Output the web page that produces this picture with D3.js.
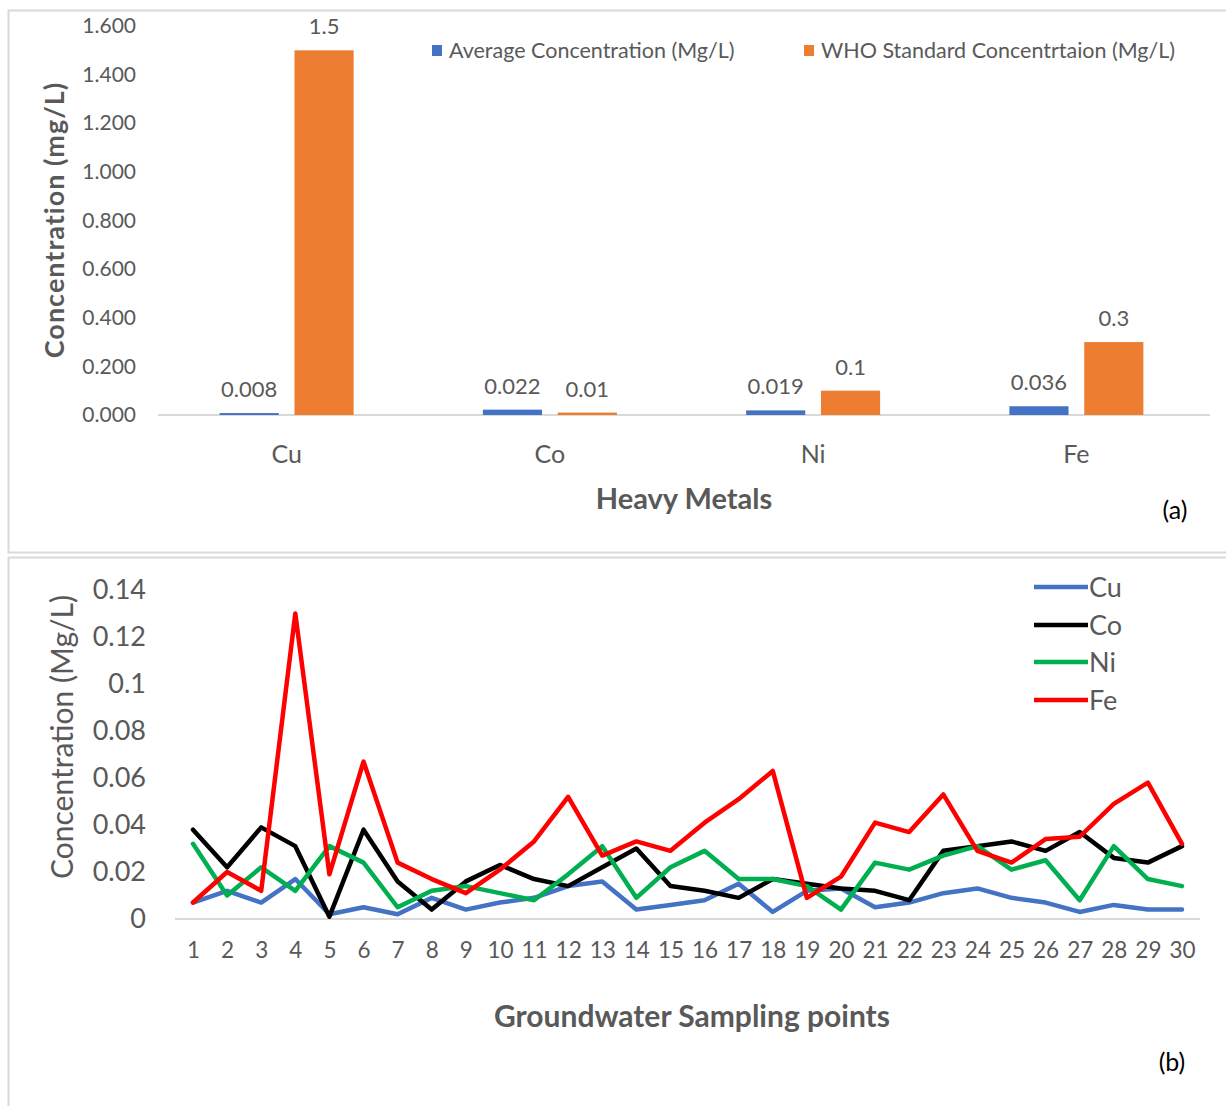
<!DOCTYPE html>
<html>
<head>
<meta charset="utf-8">
<script src="https://cdn.jsdelivr.net/npm/d3@7"></script>
<style>
  html, body { margin: 0; padding: 0; background: #fff; }
  svg { display: block; font-family: Lato, "Open Sans", sans-serif; }
</style>
</head>
<body>
<svg id="chart" width="1226" height="1106"></svg>
<script>
// ---------- Data: panel (a) ----------
const metals = ["Cu", "Co", "Ni", "Fe"];
const avgConc = [0.008, 0.022, 0.019, 0.036];
const whoConc = [1.5, 0.01, 0.1, 0.3];
const avgLabels = ["0.008", "0.022", "0.019", "0.036"];
const whoLabels = ["1.5", "0.01", "0.1", "0.3"];
const barSeries = ["Average Concentration (Mg/L)", "WHO Standard Concentrtaion (Mg/L)"];
const barTicks = [0, 0.2, 0.4, 0.6, 0.8, 1.0, 1.2, 1.4, 1.6];

// ---------- Data: panel (b) ----------
const points = d3.range(1, 31);
const cuSeries = [0.007,0.012,0.007,0.017,0.002,0.005,0.002,0.009,0.004,0.007,
                  0.009,0.014,0.016,0.004,0.006,0.008,0.015,0.003,0.012,0.013,
                  0.005,0.007,0.011,0.013,0.009,0.007,0.003,0.006,0.004,0.004];
const coSeries = [0.038,0.022,0.039,0.031,0.001,0.038,0.016,0.004,0.016,0.023,
                  0.017,0.014,0.022,0.030,0.014,0.012,0.009,0.017,0.015,0.013,
                  0.012,0.008,0.029,0.031,0.033,0.029,0.037,0.026,0.024,0.031];
const niSeries = [0.032,0.010,0.022,0.012,0.031,0.024,0.005,0.012,0.014,0.011,
                  0.008,0.019,0.031,0.009,0.022,0.029,0.017,0.017,0.014,0.004,
                  0.024,0.021,0.027,0.031,0.021,0.025,0.008,0.031,0.017,0.014];
const feSeries = [0.007,0.020,0.012,0.130,0.019,0.067,0.024,0.017,0.011,0.021,
                  0.033,0.052,0.027,0.033,0.029,0.041,0.051,0.063,0.009,0.018,
                  0.041,0.037,0.053,0.029,0.024,0.034,0.035,0.049,0.058,0.032];
const lineNames = ["Cu", "Co", "Ni", "Fe"];
const lineTicks = [0, 0.02, 0.04, 0.06, 0.08, 0.1, 0.12, 0.14];

const svg = d3.select("#chart");
const textGray = "#595959";
const gridGray = "#d9d9d9";

// Panel frames
svg.append("rect").attr("x", 8.5).attr("y", 10.5).attr("width", 1230).attr("height", 542)
  .attr("fill", "#fff").attr("stroke", gridGray).attr("stroke-width", 2);
svg.append("rect").attr("x", 8.5).attr("y", 557.5).attr("width", 1230).attr("height", 560)
  .attr("fill", "#fff").attr("stroke", gridGray).attr("stroke-width", 2);

// ================= Panel (a) =================
const gA = svg.append("g");
const yA = d3.scaleLinear().domain([0, 1.6]).range([415, 26]);
const xA = d3.scaleBand().domain(metals).range([155, 1208]).paddingInner(0).paddingOuter(0);
const x1 = d3.scaleBand().domain(barSeries).range([0, 134]).paddingInner(0.21);
const groupOffset = (xA.bandwidth() - 134) / 2;
const barColors = ["#4472C4", "#ED7D31"];

// y axis (labels only)
const yAxisA = d3.axisLeft(yA).tickValues(barTicks).tickFormat(d3.format(".3f")).tickSize(0).tickPadding(0);
const yAG = gA.append("g").attr("transform", "translate(136,0)").call(yAxisA);
yAG.select(".domain").remove();
yAG.selectAll("text").attr("fill", textGray).style("font-size", "21px").style("font-family", "Lato, sans-serif");

// baseline
gA.append("line").attr("x1", 158).attr("x2", 1210).attr("y1", yA(0)).attr("y2", yA(0))
  .attr("stroke", gridGray).attr("stroke-width", 2);

// bars
const barData = metals.map((m, i) => ({ m, vals: [
  { s: barSeries[0], v: avgConc[i], lab: avgLabels[i], c: barColors[0] },
  { s: barSeries[1], v: whoConc[i], lab: whoLabels[i], c: barColors[1] }
]}));
const groups = gA.selectAll("g.grp").data(barData).join("g")
  .attr("transform", d => `translate(${xA(d.m) + groupOffset},0)`);
groups.selectAll("rect").data(d => d.vals).join("rect")
  .attr("x", d => x1(d.s)).attr("width", x1.bandwidth())
  .attr("y", d => yA(d.v)).attr("height", d => yA(0) - yA(d.v))
  .attr("fill", d => d.c);
groups.selectAll("text").data(d => d.vals).join("text")
  .attr("x", d => x1(d.s) + x1.bandwidth() / 2)
  .attr("y", d => yA(d.v) - 16)
  .attr("text-anchor", "middle")
  .attr("fill", textGray).style("font-size", "22px")
  .text(d => d.lab);

// x axis labels
const xAxisA = d3.axisBottom(xA).tickSize(0).tickPadding(0);
const xAG = gA.append("g").attr("transform", "translate(0,445)").call(xAxisA);
xAG.select(".domain").remove();
xAG.selectAll("text").attr("fill", textGray).style("font-size", "25px").style("font-family", "Lato, sans-serif");

// titles
gA.append("text").attr("x", 684).attr("y", 509).attr("text-anchor", "middle")
  .attr("fill", textGray).style("font-size", "29px").style("font-weight", "bold").text("Heavy Metals");
gA.append("text").attr("transform", "translate(64,220) rotate(-90)").attr("text-anchor", "middle")
  .attr("fill", textGray).style("font-size", "27px").style("font-weight", "bold")
  .style("letter-spacing", "1px").text("Concentration (mg/L)");
gA.append("text").attr("x", 1175).attr("y", 519).attr("text-anchor", "middle")
  .attr("fill", "#000").style("font-size", "25px").text("(a)");

// legend (a)
const legA = gA.append("g");
const legAx = [432, 804];
barSeries.forEach((s, i) => {
  legA.append("rect").attr("x", legAx[i]).attr("y", 45).attr("width", 10).attr("height", 11).attr("fill", barColors[i]);
  legA.append("text").attr("x", legAx[i] + 17).attr("y", 58).attr("fill", textGray)
    .style("font-size", "21.5px").text(s);
});

// ================= Panel (b) =================
const gB = svg.append("g");
const yB = d3.scaleLinear().domain([0, 0.14]).range([919, 590]);
const xB = d3.scalePoint().domain(points).range([193, 1182]);

const yAxisB = d3.axisLeft(yB).tickValues(lineTicks).tickFormat(d => d3.format("")(+d.toFixed(2))).tickSize(0).tickPadding(0);
const yBG = gB.append("g").attr("transform", "translate(146,0)").call(yAxisB);
yBG.select(".domain").remove();
yBG.selectAll("text").attr("fill", textGray).style("font-size", "27px").style("font-family", "Lato, sans-serif");

gB.append("line").attr("x1", 175).attr("x2", 1200).attr("y1", yB(0)).attr("y2", yB(0))
  .attr("stroke", gridGray).attr("stroke-width", 2);

const xAxisB = d3.axisBottom(xB).tickSize(0).tickPadding(0);
const xBG = gB.append("g").attr("transform", "translate(0,942)").call(xAxisB);
xBG.select(".domain").remove();
xBG.selectAll("text").attr("fill", textGray).style("font-size", "22.5px").style("font-family", "Lato, sans-serif");

const seriesB = [
  { name: lineNames[0], vals: cuSeries, color: "#4472C4" },
  { name: lineNames[1], vals: coSeries, color: "#000000" },
  { name: lineNames[2], vals: niSeries, color: "#00B050" },
  { name: lineNames[3], vals: feSeries, color: "#FF0000" }
];
const line = d3.line().x((d, i) => xB(points[i])).y(d => yB(d));
gB.selectAll("path.ser").data(seriesB).join("path").attr("class", "ser")
  .attr("d", d => line(d.vals)).attr("fill", "none")
  .attr("stroke", d => d.color).attr("stroke-width", 4.5)
  .attr("stroke-linejoin", "round").attr("stroke-linecap", "round");

// legend (b)
const legYs = [587, 625, 662, 700];
seriesB.forEach((s, i) => {
  gB.append("line").attr("x1", 1034).attr("x2", 1088).attr("y1", legYs[i]).attr("y2", legYs[i])
    .attr("stroke", s.color).attr("stroke-width", 4.5);
  gB.append("text").attr("x", 1089).attr("y", legYs[i] + 10).attr("fill", textGray)
    .style("font-size", "27px").text(s.name);
});

// titles
gB.append("text").attr("x", 692).attr("y", 1027).attr("text-anchor", "middle")
  .attr("fill", textGray).style("font-size", "30px").style("font-weight", "bold").text("Groundwater Sampling points");
gB.append("text").attr("transform", "translate(73,737) rotate(-90)").attr("text-anchor", "middle")
  .attr("fill", textGray).style("font-size", "30px").text("Concentration (Mg/L)");
gB.append("text").attr("x", 1172).attr("y", 1071).attr("text-anchor", "middle")
  .attr("fill", "#000").style("font-size", "25px").text("(b)");
</script>
</body>
</html>
